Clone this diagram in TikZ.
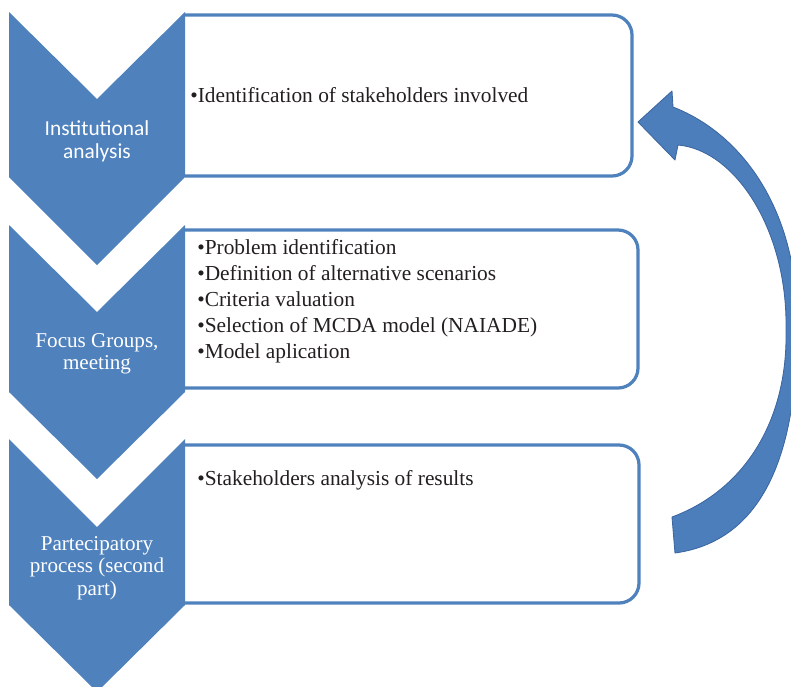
\documentclass[tikz,border=0pt]{standalone}
\usepackage{fontspec}
\setmainfont{Liberation Serif}
\newfontfamily\labelsans{Carlito}
\definecolor{chevblue}{RGB}{79,129,189}
\definecolor{arrowblue}{RGB}{76,126,188}
\definecolor{arrowedge}{RGB}{60,102,160}
\definecolor{itemtext}{RGB}{35,31,32}
\begin{document}
\begin{tikzpicture}[x=0.025cm,y=-0.025cm]
	\def \leftx{9}
	\def \midx{97}
	\def \rightx{185}
	\tikzstyle{chev}=[fill=chevblue]
	\tikzstyle{box}=[draw=chevblue,line width=2.3pt,rounded corners=0.5cm]
	\tikzstyle{chev-label}=[text=white,align=center]
	\tikzstyle{item}=[text=itemtext,align=left,inner sep=0pt,font=\fontsize{15.2}{18.5}\selectfont]
	\tikzstyle{loop-arrow}=[fill=arrowblue,draw=arrowedge,line width=0.6pt,line join=round]
	\useasboundingbox (0,0) rectangle (791,686);

	% boxes (left side hidden by the chevrons)
	\draw[box] (\rightx,15) -- (632,15) -- (632,176) -- (\rightx,176);
	\draw[box] (\rightx,230) -- (638,230) -- (638,388) -- (\rightx,388);
	\draw[box] (\rightx,445) -- (639,445) -- (639,603) -- (\rightx,603);

	% chevrons
	\begin{scope}
	\clip (0,0) rectangle (791,686);
	\fill[chev] (\leftx,12) -- (\midx,99) -- (\rightx,12) -- (\rightx,177) -- (\midx,265) -- (\leftx,177) -- cycle;
	\fill[chev] (\leftx,225) -- (\midx,312) -- (\rightx,225) -- (\rightx,392) -- (\midx,479) -- (\leftx,392) -- cycle;
	\fill[chev] (\leftx,439) -- (\midx,527) -- (\rightx,439) -- (\rightx,605) -- (\midx,692) -- (\leftx,605) -- cycle;
	\end{scope}

	% chevron labels
	\node[chev-label,font=\labelsans\fontsize{15.2}{16.3}\selectfont] (inst) at (\midx,141) {Institutional\\analysis};
	\node[chev-label,font=\fontsize{15}{15.8}\selectfont] (focus) at (\midx,354) {Focus Groups,\\meeting};
	\node[chev-label,font=\fontsize{15}{16}\selectfont] (partec) at (\midx,568) {Partecipatory\\process (second\\part)};

	% box contents
	\node[item,anchor=base west] (stake) at (190,102) {\textbullet Identification of stakeholders involved};
	\node[item,anchor=north west] (steps) at (197,239) {\textbullet Problem identification\\
		\textbullet Definition of alternative scenarios\\
		\textbullet Criteria valuation\\
		\textbullet Selection of MCDA model (NAIADE)\\
		\textbullet Model aplication};
	\node[item,anchor=base west] (results) at (197,485) {\textbullet Stakeholders analysis of results};

	% feedback arrow
	\begin{scope}
	\clip (0,0) rectangle (791,686);
	\filldraw[loop-arrow]
		(638,122) -- (672,91) -- (673,107)
		.. controls (745,135) and (800,215) .. (797,330)
		.. controls (797,440) and (770,540) .. (675,553)
		-- (672,517)
		.. controls (745,490) and (788,420) .. (786,330)
		.. controls (788,230) and (735,150) .. (678,145)
		-- (675,160) -- cycle;
	\end{scope}
\end{tikzpicture}
\end{document}
